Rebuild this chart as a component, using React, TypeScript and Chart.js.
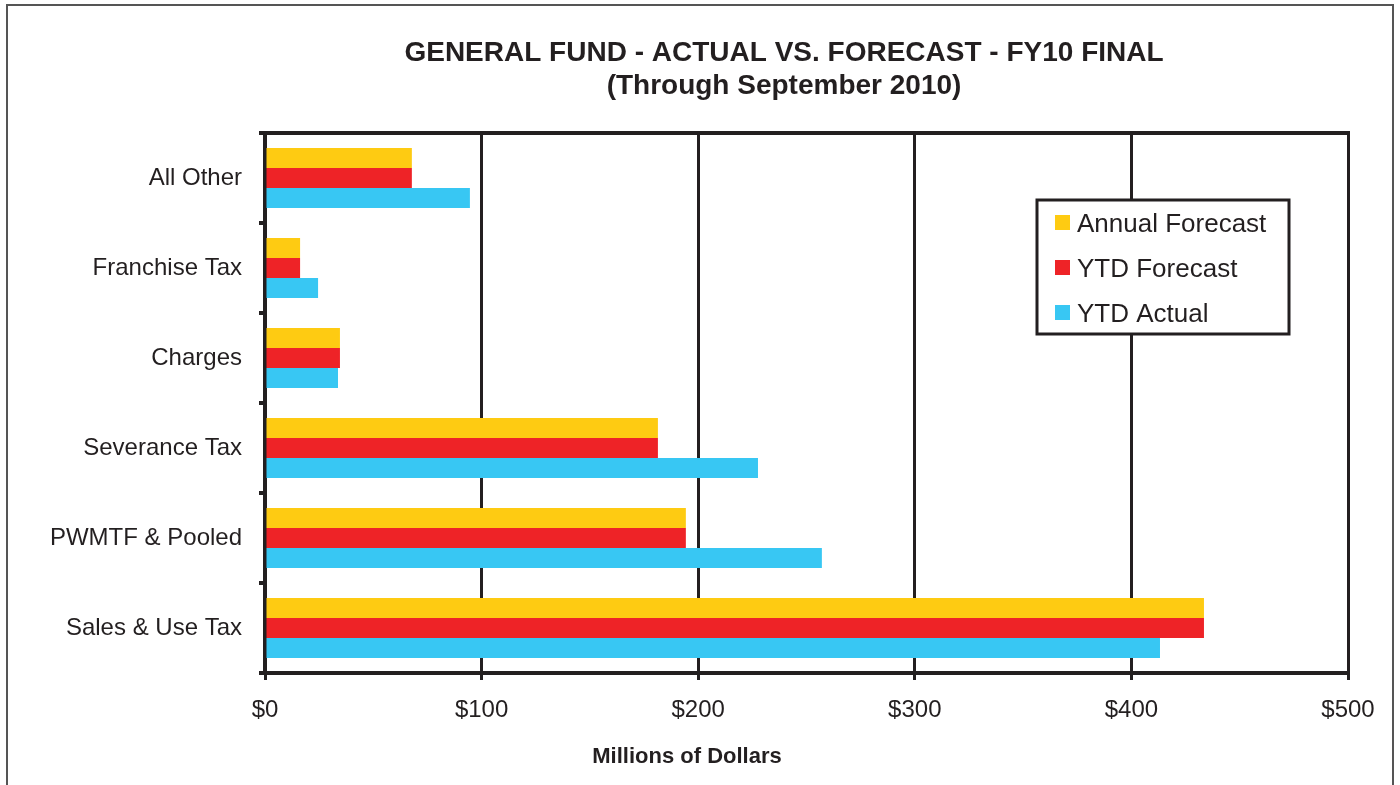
import React, { useEffect, useRef } from "react";
import { Chart, registerables } from "chart.js";

Chart.register(...registerables);

const categories = ["All Other", "Franchise Tax", "Charges", "Severance Tax", "PWMTF & Pooled", "Sales & Use Tax"];
const annualForecast = [67.8, 16.2, 34.6, 181.4, 194.3, 433.5];
const ytdForecast = [67.8, 16.2, 34.6, 181.4, 194.3, 433.5];
const ytdActual = [94.6, 24.5, 33.7, 227.6, 257.1, 413.2];
const seriesNames = ["Annual Forecast", "YTD Forecast", "YTD Actual"];
const seriesColors = ["#FECB12", "#EE2327", "#38C7F3"];
const titleLines = ["GENERAL FUND - ACTUAL VS. FORECAST - FY10 FINAL", "(Through September 2010)"];
const xAxisTitle = "Millions of Dollars";

const INK = "#231f20";
const FONT = "'Liberation Sans', Arial, Helvetica, sans-serif";

const decorPlugin = {
  id: "decor",
  afterDraw(chart: any) {
    const ctx = chart.ctx;
    const area = chart.chartArea;
    ctx.save();
    // title
    ctx.fillStyle = INK;
    ctx.font = `bold 28px ${FONT}`;
    ctx.textAlign = "center";
    ctx.textBaseline = "middle";
    ctx.fillText(titleLines[0], 784, 53);
    ctx.fillText(titleLines[1], 784, 86);
    // x axis title
    ctx.font = `bold 22px ${FONT}`;
    ctx.fillText(xAxisTitle, 687, 757);
    // top frame line of plot
    ctx.strokeStyle = INK;
    ctx.lineWidth = 4;
    ctx.beginPath();
    ctx.moveTo(259, area.top);
    ctx.lineTo(area.right + 2, area.top);
    ctx.stroke();
    // legend
    const lx = 1037, ly = 200, lw = 252, lh = 134;
    ctx.fillStyle = "#ffffff";
    ctx.fillRect(lx, ly, lw, lh);
    ctx.lineWidth = 3;
    ctx.strokeStyle = INK;
    ctx.strokeRect(lx, ly, lw, lh);
    ctx.font = `26px ${FONT}`;
    ctx.textAlign = "left";
    ctx.textBaseline = "middle";
    const rows = [222, 267, 312];
    seriesNames.forEach((name, i) => {
      ctx.fillStyle = seriesColors[i];
      ctx.fillRect(1055, rows[i] - 7, 15, 15);
      ctx.fillStyle = INK;
      ctx.fillText(name, 1077, rows[i] + 3);
    });
    ctx.restore();
  },
};

export default function App() {
  const ref = useRef<HTMLCanvasElement | null>(null);
  useEffect(() => {
    if (!ref.current) return;
    const data = [annualForecast, ytdForecast, ytdActual];
    const chart = new Chart(ref.current, {
      type: "bar",
      data: {
        labels: categories,
        datasets: seriesNames.map((name, i) => ({
          label: name,
          data: data[i],
          backgroundColor: seriesColors[i],
          borderWidth: 0,
          barPercentage: 1,
          categoryPercentage: 0.6667,
        })),
      },
      plugins: [decorPlugin],
      options: {
        indexAxis: "y",
        responsive: false,
        animation: false,
        layout: { padding: { top: 133, right: 52, bottom: 0, left: 0 } },
        plugins: {
          legend: { display: false },
          title: { display: false },
          tooltip: { enabled: false },
        },
        scales: {
          x: {
            type: "linear",
            min: 0,
            max: 500,
            ticks: {
              stepSize: 100,
              padding: 16,
              color: INK,
              font: { family: FONT, size: 24 },
              callback: (v: any) => "$" + v,
              maxRotation: 0,
            },
            grid: { color: INK, lineWidth: 3, tickLength: 7, drawTicks: true },
            border: { display: true, color: INK, width: 4 },
            title: { display: false },
            afterFit: (s: any) => {
              s.height = 112;
              s.paddingLeft = 0;
              s.paddingRight = 0;
            },
          },
          y: {
            type: "category",
            ticks: {
              padding: 17,
              color: INK,
              font: { family: FONT, size: 24 },
            },
            grid: { color: INK, lineWidth: 4, tickLength: 6, drawOnChartArea: false, drawTicks: true, offset: true },
            border: { display: true, color: INK, width: 4 },
            afterFit: (s: any) => {
              s.width = 265;
              s.paddingTop = 0;
              s.paddingBottom = 0;
            },
          },
        },
      } as any,
    });
    return () => chart.destroy();
  }, []);
  return (
    <div style={{ position: "fixed", left: 0, top: 0, width: 1400, height: 785, background: "#fff" }}>
      <div
        style={{
          position: "absolute",
          left: 6,
          top: 4,
          width: 1388,
          height: 800,
          border: "2px solid #555",
          boxSizing: "border-box",
        }}
      />
      <canvas ref={ref} width={1400} height={785} style={{ position: "absolute", left: 0, top: 0, display: "block" }} />
    </div>
  );
}
